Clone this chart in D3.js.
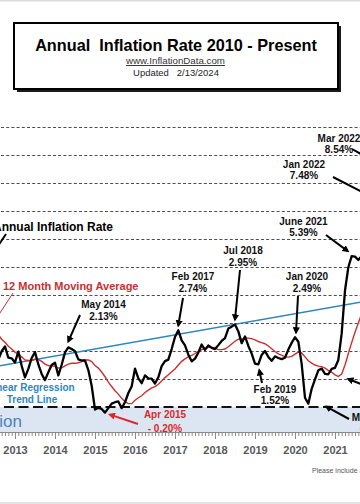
<!DOCTYPE html>
<html><head><meta charset="utf-8">
<script src="https://cdnjs.cloudflare.com/ajax/libs/d3/7.8.5/d3.min.js"></script>
<style>
html,body{margin:0;padding:0;background:#fff;}
svg{display:block;font-family:"Liberation Sans",Arial,Helvetica,sans-serif;}
</style>
</head><body>
<svg id="chart" width="360" height="504"></svg>
<script>
// ---- DATA ----
const firstYear = 2012; // series start: Jan 2012, monthly
const inflationRate = [
  2.93, 2.87, 2.65, 2.30, 1.70, 1.66, 1.41, 1.69, 1.99, 2.16, 1.76, 1.74,
  1.59, 1.98, 1.47, 1.06, 1.36, 1.75, 1.96, 1.52, 1.18, 0.96, 1.24, 1.50,
  1.58, 1.13, 1.51, 1.95, 2.13, 2.07, 1.99, 1.70, 1.66, 1.66, 1.32, 0.76,
  -0.09, -0.03, -0.07, -0.20, -0.04, 0.12, 0.17, 0.20, -0.04, 0.17, 0.50, 0.73,
  1.37, 1.02, 0.85, 1.13, 1.02, 1.01, 0.84, 1.06, 1.46, 1.64, 1.69, 2.07,
  2.50, 2.74, 2.38, 2.20, 1.87, 1.63, 1.73, 1.94, 2.23, 2.04, 2.20, 2.11,
  2.07, 2.21, 2.36, 2.46, 2.80, 2.87, 2.95, 2.70, 2.28, 2.52, 2.18, 1.91,
  1.55, 1.52, 1.86, 2.00, 1.79, 1.65, 1.81, 1.75, 1.71, 1.76, 2.05, 2.29,
  2.49, 2.33, 1.54, 0.33, 0.12, 0.65, 0.99, 1.31, 1.37, 1.18, 1.17, 1.36,
  1.40, 1.68, 2.62, 4.16, 4.99, 5.39, 5.37, 5.25, 5.39, 6.22, 6.81, 7.04,
  7.48, 7.87, 8.54
];
const movingAverage = [
  3.26, 3.33, 3.32, 3.25, 3.10, 2.94, 2.75, 2.58, 2.42, 2.31, 2.17, 2.07,
  1.96, 1.89, 1.79, 1.68, 1.66, 1.66, 1.71, 1.70, 1.63, 1.53, 1.48, 1.46,
  1.46, 1.39, 1.40, 1.47, 1.53, 1.56, 1.56, 1.58, 1.62, 1.68, 1.68, 1.62,
  1.48, 1.39, 1.25, 1.08, 0.89, 0.73, 0.58, 0.46, 0.31, 0.19, 0.12, 0.12,
  0.24, 0.33, 0.40, 0.52, 0.60, 0.68, 0.73, 0.81, 0.93, 1.05, 1.15, 1.26,
  1.36, 1.50, 1.63, 1.72, 1.79, 1.84, 1.91, 1.99, 2.05, 2.09, 2.13, 2.13,
  2.10, 2.05, 2.05, 2.07, 2.15, 2.25, 2.35, 2.42, 2.42, 2.46, 2.46, 2.44,
  2.40, 2.34, 2.30, 2.26, 2.18, 2.08, 1.98, 1.90, 1.85, 1.79, 1.78, 1.81,
  1.89, 1.96, 1.93, 1.79, 1.65, 1.57, 1.50, 1.46, 1.44, 1.39, 1.31, 1.24,
  1.15, 1.09, 1.18, 1.50, 1.91, 2.30, 2.67, 3.00, 3.33, 3.75, 4.22, 4.69,
  5.20, 5.72, 6.21
];
const regressionYears = [2010, 2024];
const regressionValues = [0.81, 4.34];
const gridValues = [1, 2, 3, 4, 5, 6, 7, 8, 9, 10];
const yearTicks = [2012, 2013, 2014, 2015, 2016, 2017, 2018, 2019, 2020, 2021, 2022];
const yearLabels = ["2013", "2014", "2015", "2016", "2017", "2018", "2019", "2020", "2021"];

// ---- SCALES ----
const svg = d3.select("#chart");
const x = d3.scaleLinear().domain([2012, 2022]).range([-25, 375]);
const y = d3.scaleLinear().domain([0, 10]).range([407, 127]);
const axisY = 432;
const monthT = i => firstYear + i / 12;

const defs = svg.append("defs");
function marker(id, color) {
  defs.append("marker").attr("id", id).attr("viewBox", "0 0 10 10")
    .attr("refX", 7).attr("refY", 5).attr("markerWidth", 3.6).attr("markerHeight", 3.6)
    .attr("orient", "auto")
    .append("path").attr("d", "M0,0 L10,5 L0,10 z").attr("fill", color);
}
marker("arrBlack", "#000");
marker("arrRed", "#e0262b");

// borders
svg.append("rect").attr("x", 0).attr("y", 0).attr("width", 360).attr("height", 1.5).attr("fill", "#dcdcdc");
svg.append("rect").attr("x", 0).attr("y", 502).attr("width", 360).attr("height", 2).attr("fill", "#e2e2e2");

// deflation band
svg.append("rect").attr("x", x(2012)).attr("y", y(0))
  .attr("width", x(2022) - x(2012)).attr("height", axisY - y(0))
  .attr("fill", "#dce6f2");
svg.append("text").attr("x", 22).attr("y", 427).attr("text-anchor", "end")
  .attr("font-size", 17).attr("fill", "#4f81bd").text("Deflation");

// gridlines
svg.append("g").selectAll("line").data(gridValues).join("line")
  .attr("x1", x(2012)).attr("x2", x(2022))
  .attr("y1", d => y(d) + 0.5).attr("y2", d => y(d) + 0.5)
  .attr("stroke", "#3a3a3a").attr("stroke-width", 0.9).attr("stroke-dasharray", "3,2.2");

// zero line
svg.append("line").attr("x1", x(2012)).attr("x2", x(2022))
  .attr("y1", y(0)).attr("y2", y(0))
  .attr("stroke", "#111").attr("stroke-width", 2).attr("stroke-dasharray", "10,4.5");

// x axis
const months = d3.range(0, 121).map(monthT);
const minorAxis = d3.axisBottom(x).tickValues(months).tickSize(4).tickFormat("");
const gMinor = svg.append("g").attr("transform", `translate(0,${axisY})`).call(minorAxis);
gMinor.select(".domain").attr("stroke", "#8a8a8a");
gMinor.selectAll(".tick line").attr("stroke", "#8a8a8a");
const majorAxis = d3.axisBottom(x).tickValues(yearTicks).tickSize(7).tickFormat("");
const gMajor = svg.append("g").attr("transform", `translate(0,${axisY})`).call(majorAxis);
gMajor.select(".domain").remove();
gMajor.selectAll(".tick line").attr("stroke", "#8a8a8a");
const labelAxis = d3.axisBottom(x).tickValues(yearLabels.map(Number)).tickSize(7).tickPadding(7)
  .tickFormat((d, i) => yearLabels[i]);
const gLab = svg.append("g").attr("transform", `translate(0,${axisY})`).call(labelAxis);
gLab.select(".domain").remove();
gLab.selectAll(".tick line").remove();
gLab.selectAll(".tick text").attr("font-size", 11).attr("font-weight", "bold")
  .attr("fill", "#595959").attr("font-family", "'Liberation Sans',Arial,sans-serif");

// regression line
svg.append("path")
  .datum(regressionYears.map((t, i) => [t, regressionValues[i]]))
  .attr("d", d3.line().x(d => x(d[0])).y(d => y(d[1])))
  .attr("fill", "none").attr("stroke", "#2c87bd").attr("stroke-width", 1.5);

// moving average
svg.append("path")
  .datum(movingAverage.map((v, i) => [monthT(i), v]))
  .attr("d", d3.line().x(d => x(d[0])).y(d => y(d[1])))
  .attr("fill", "none").attr("stroke", "#cc2f2f").attr("stroke-width", 1.4);

// annual inflation rate
svg.append("path")
  .datum(inflationRate.map((v, i) => [monthT(i), v]))
  .attr("d", d3.line().x(d => x(d[0])).y(d => y(d[1])))
  .attr("fill", "none").attr("stroke", "#000").attr("stroke-width", 2.3)
  .attr("stroke-linejoin", "round");

// ---- ANNOTATIONS ----
const notes = [
  {lines: ["May 2014", "2.13%"], cx: 103.5, by: [308, 320], color: "#111", from: [80, 315], t: 2014 + 4/12, v: 2.13, off: [0, -6]},
  {lines: ["Feb 2017", "2.74%"], cx: 193, by: [280, 292], color: "#111", from: [183, 298], t: 2017 + 1/12, v: 2.74, off: [0, -5]},
  {lines: ["Jul 2018", "2.95%"], cx: 243, by: [254, 266], color: "#111", from: [240, 270], t: 2018 + 6/12, v: 2.95, off: [0, -5]},
  {lines: ["Jan 2020", "2.49%"], cx: 307, by: [280, 292], color: "#111", from: [298, 296], t: 2020, v: 2.49, off: [1, -5]},
  {lines: ["Feb 2019", "1.52%"], cx: 275, by: [393, 404], color: "#111", from: [262, 383], t: 2019 + 1/12, v: 1.52, off: [1, 6]},
  {lines: ["Apr 2015", "- 0.20%"], cx: 165, by: [418, 432], color: "#e0262b", from: [138, 424], t: 2015 + 3/12, v: -0.20, off: [5, 2], red: true},
  {lines: ["June 2021", "5.39%"], cx: 303.5, by: [225, 236], color: "#111", from: [326, 235], t: 2021 + 5/12, v: 5.39, off: [-4, -5]},
  {lines: ["Jan 2022", "7.48%"], cx: 304, by: [168, 179], color: "#111", from: [333, 177], t: 2022, v: 7.48, off: [-6, -2]},
  {lines: ["Mar 2022", "8.54%"], cx: 339, by: [142, 153], color: "#111", from: [352, 149], t: 2022 + 2/12, v: 8.54, off: [-5, -5]},
  {lines: ["May 2020", "0.12%"], cx: 374, by: [421, 433], color: "#111", from: [349, 419], t: 2020 + 4/12, v: 0.12, off: [18, 3]},
  {lines: [], cx: 0, by: [], color: "#111", from: [366, 386], t: 2021 + 1/12, v: 1.09, off: [10, 2.5]}
];
const gN = svg.append("g");
notes.forEach(n => {
  n.lines.forEach((s, i) => {
    gN.append("text").attr("x", n.cx).attr("y", n.by[i]).attr("text-anchor", "middle")
      .attr("font-size", 10).attr("font-weight", "bold").attr("fill", n.color).text(s);
  });
  gN.append("line").attr("x1", n.from[0]).attr("y1", n.from[1])
    .attr("x2", x(n.t) + n.off[0]).attr("y2", y(n.v) + n.off[1])
    .attr("stroke", n.red ? "#e0262b" : "#000").attr("stroke-width", 2)
    .attr("marker-end", n.red ? "url(#arrRed)" : "url(#arrBlack)");
});

// series labels
svg.append("text").attr("x", 113).attr("y", 231).attr("text-anchor", "end")
  .attr("font-size", 12).attr("font-weight", "bold").attr("fill", "#000").text("Annual Inflation Rate");
svg.append("line").attr("x1", 6).attr("y1", 234).attr("x2", -6).attr("y2", 252)
  .attr("stroke", "#000").attr("stroke-width", 2);
svg.append("text").attr("x", 3).attr("y", 290)
  .attr("font-size", 11).attr("font-weight", "bold").attr("fill", "#cc2f2f").text("12 Month Moving Average");
svg.append("line").attr("x1", 13).attr("y1", 293).attr("x2", -2).attr("y2", 316)
  .attr("stroke", "#cc2f2f").attr("stroke-width", 1);
const reg = svg.append("text").attr("text-anchor", "middle").attr("font-size", 10)
  .attr("font-weight", "bold").attr("fill", "#2e86c1");
reg.append("tspan").attr("x", 31).attr("y", 391).text("Linear Regression");
reg.append("tspan").attr("x", 32).attr("y", 403).text("Trend Line");

// footer note
svg.append("text").attr("x", 312).attr("y", 473).attr("font-size", 7).attr("fill", "#555")
  .text("Please include a link to InflationData.com");

// ---- TITLE BOX ----
svg.append("rect").attr("x", 17).attr("y", 26).attr("width", 324).attr("height", 66).attr("fill", "#1a1a1a");
svg.append("rect").attr("x", 14).attr("y", 23).attr("width", 324).attr("height", 66)
  .attr("fill", "#fff").attr("stroke", "#000").attr("stroke-width", 2);
function fitText(sel, w) {
  const len = sel.node().getComputedTextLength();
  const fs = parseFloat(sel.attr("font-size"));
  sel.attr("font-size", fs * w / len);
}
const t1 = svg.append("text").attr("x", 176).attr("y", 51).attr("text-anchor", "middle")
  .attr("font-size", 16).attr("font-weight", "bold").attr("fill", "#000")
  .style("white-space", "pre").text("Annual  Inflation Rate 2010 - Present");
fitText(t1, 282);
const t2 = svg.append("text").attr("x", 175.5).attr("y", 64).attr("text-anchor", "middle")
  .attr("font-size", 10).attr("fill", "#333").attr("text-decoration", "underline")
  .text("www.InflationData.com");
fitText(t2, 99);
const t3 = svg.append("text").attr("x", 176).attr("y", 76).attr("text-anchor", "middle")
  .attr("font-size", 10).attr("fill", "#222").style("white-space", "pre")
  .text("Updated   2/13/2024");
fitText(t3, 86);
</script>
</body></html>
